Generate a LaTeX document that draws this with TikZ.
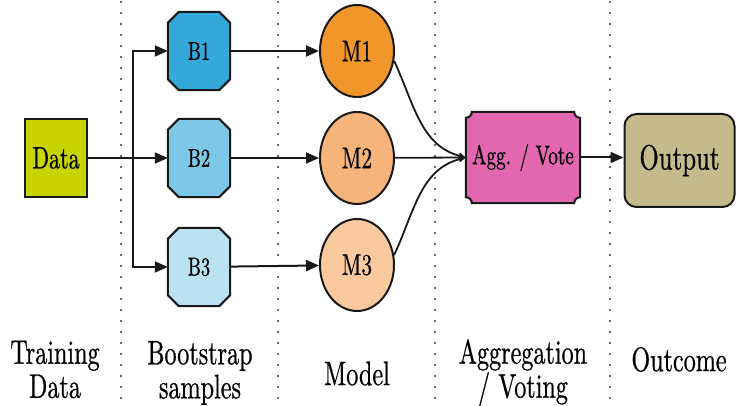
\documentclass[tikz,border=0pt]{standalone}
\usepackage{graphicx}
\usepackage{fontspec}
\setmainfont{lmroman10-regular.otf}[FakeBold=0.8]
\usetikzlibrary{arrows.meta,backgrounds,shapes.geometric}
\definecolor{datacol}{RGB}{200,212,0}
\definecolor{bcolA}{RGB}{52,168,216}
\definecolor{bcolB}{RGB}{125,200,230}
\definecolor{bcolC}{RGB}{186,226,243}
\definecolor{mcolA}{RGB}{240,150,42}
\definecolor{mcolB}{RGB}{247,180,122}
\definecolor{mcolC}{RGB}{250,202,158}
\definecolor{aggcol}{RGB}{226,102,176}
\definecolor{outcol}{RGB}{196,186,140}
\definecolor{linecol}{RGB}{25,25,25}
\newcommand\nrw[1]{\scalebox{0.71}[1]{#1}}
\newcommand\drawoct[2]{\draw[box, fill=#2] ([xshift=11pt]#1.north west) -- ([xshift=-11pt]#1.north east) -- ([yshift=-11pt]#1.north east) -- ([yshift=11pt]#1.south east) -- ([xshift=-11pt]#1.south east) -- ([xshift=11pt]#1.south west) -- ([yshift=11pt]#1.south west) -- ([yshift=-11pt]#1.north west) -- cycle;}
\begin{document}
\begin{tikzpicture}[x=1pt,y=1pt,
  box/.style={draw=linecol, line width=2pt},
  edge/.style={line width=2pt, draw=linecol, -{Triangle[length=13pt,width=11pt]}},
  thinedge/.style={line width=1.8pt, draw=linecol, -{Triangle[length=7pt,width=6pt]}},
  sepline/.style={line width=2.3pt, draw=black!80, dash pattern=on 0pt off 11pt, line cap=round},
  bnode/.style={minimum width=62pt, minimum height=78pt, inner sep=0pt, font=\fontsize{26}{28}\selectfont},
  mnode/.style={ellipse, box, minimum width=74pt, minimum height=92pt, inner sep=0pt, font=\fontsize{30}{32}\selectfont},
  lab/.style={align=center, inner sep=0pt, font=\fontsize{34}{34}\selectfont}]
\useasboundingbox (0,0) rectangle (736,406);
% separators
\foreach \x in {121,278,435,610} \draw[sepline] (\x,404) -- (\x,0);
% nodes
\node[box, fill=datacol, minimum width=62pt, minimum height=78pt, inner sep=0pt, font=\fontsize{31}{33}\selectfont] (data) at (56,248) {\nrw{Data}};
\node[bnode] (b1) at (199,355) {\nrw{B1}};
\node[bnode] (b2) at (199,248) {\nrw{B2}};
\node[bnode] (b3) at (199,139) {\nrw{B3}};
\node[mnode, fill=mcolA] (m1) at (357,355) {\nrw{M1}};
\node[mnode, fill=mcolB] (m2) at (357,248) {\nrw{M2}};
\node[mnode, fill=mcolC] (m3) at (357,141) {\nrw{M3}};
\node[minimum width=114pt, minimum height=91pt, inner sep=0pt, font=\fontsize{27}{29}\selectfont] (agg) at (523,248.5) {\nrw{Agg. / Vote}};
\node[box, fill=outcol, rounded corners=12pt, minimum width=110pt, minimum height=93pt, inner sep=0pt, font=\fontsize{35}{37}\selectfont] (out) at (679.5,245.5) {\nrw{Output}};
\begin{scope}[on background layer]
\drawoct{b1}{bcolA}
\drawoct{b2}{bcolB}
\drawoct{b3}{bcolC}
\draw[box, fill=aggcol] ([xshift=6pt]agg.north west) -- ([xshift=-6pt]agg.north east) arc[start angle=180,end angle=270,radius=6pt] -- ([yshift=6pt]agg.south east) arc[start angle=90,end angle=180,radius=6pt] -- ([xshift=6pt]agg.south west) arc[start angle=0,end angle=90,radius=6pt] -- ([yshift=-6pt]agg.north west) arc[start angle=270,end angle=360,radius=6pt] -- cycle;
\end{scope}
% labels
\node[lab] (l1) at (55,36.5) {\nrw{Training}\\\nrw{Data}};
\node[lab] (l2) at (200,33) {\nrw{Bootstrap}\\\nrw{samples}};
\node[lab] (l3) at (357,32.5) {\nrw{Model}};
\node[lab] (l4) at (523,33.3) {\nrw{Aggregation}\\\nrw{/ Voting}};
\node[lab] (l5) at (679,46.5) {\nrw{Outcome}};
% connectors
\coordinate (split) at (133,248);
\draw[edge] (data.east) -- (b2.west);
\draw[edge] (split) |- (b1.west);
\draw[edge] (split) |- (b3.west);
\draw[edge] (b1) -- (m1);
\draw[edge] (b2) -- (m2);
\draw[edge] (b3) -- (m3);
\draw[thinedge] (m1.-15) to[out=-65,in=165] (agg.west);
\draw[thinedge] (m2) -- (agg.west);
\draw[thinedge] (m3.15) to[out=65,in=-165] (agg.west);
\draw[edge] (agg.east) -- (agg.east -| out.west);
\end{tikzpicture}
\end{document}
